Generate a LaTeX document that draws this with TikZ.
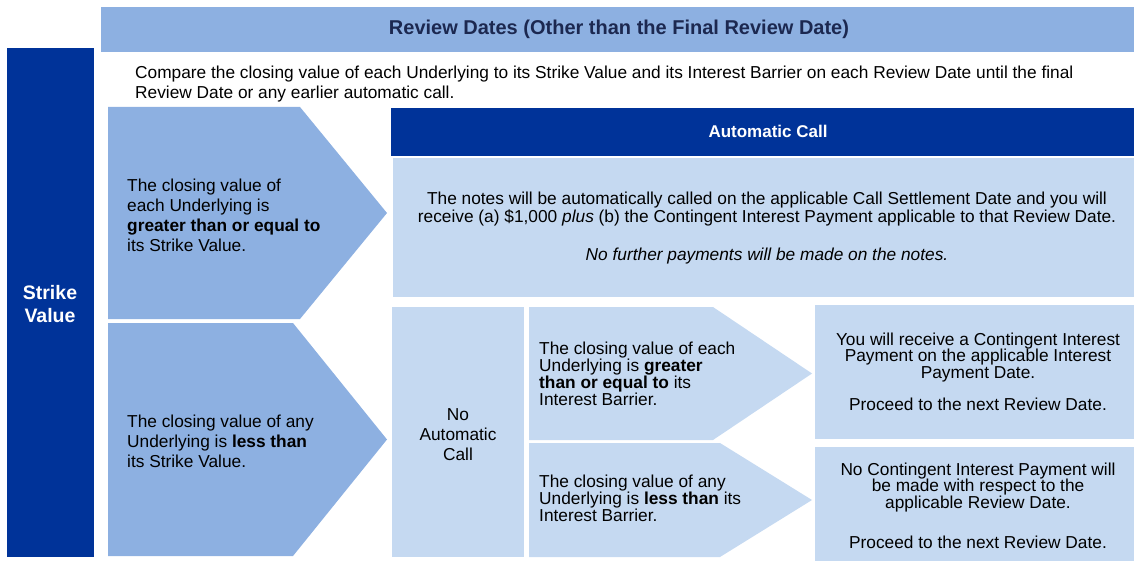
\documentclass[tikz,border=0pt]{standalone}
\usepackage{fontspec}
\setmainfont{Liberation Sans}
\definecolor{darkblue}{RGB}{0,51,153}
\definecolor{midblue}{RGB}{141,176,225}
\definecolor{paleblue}{RGB}{197,217,241}
\definecolor{navytext}{RGB}{28,40,80}
\begin{document}
\begin{tikzpicture}[x=1pt,y=-1pt,
  txt/.style={font=\fontsize{17.3}{20}\selectfont, inner sep=0pt, text=black},
  tight/.style={font=\fontsize{17.3}{15.3}\selectfont, inner sep=0pt, text=black},
  tighter/.style={font=\fontsize{17.3}{14.6}\selectfont, inner sep=0pt, text=black},
  mid/.style={font=\fontsize{17.3}{16.5}\selectfont, inner sep=0pt, text=black},
  darkfill/.style={fill=darkblue, draw=none},
  midfill/.style={fill=midblue, draw=none},
  palefill/.style={fill=paleblue, draw=none}]
\useasboundingbox (0,0) rectangle (1134,561);
% header
\fill[midfill] (101,7) rectangle (1134,52);
\node[font=\bfseries\fontsize{20}{22}\selectfont, text=navytext, inner sep=0pt] (hdr) at (619,29.5) {Review Dates (Other than the Final Review Date)};
% strike value
\fill[darkfill] (7,48) rectangle (94,557);
\node[font=\bfseries\fontsize{19.5}{22.5}\selectfont, text=white, align=center, inner sep=0pt] (strike) at (50,304) {Strike\\Value};
% intro text
\node[txt, align=left, anchor=west] (intro) at (135,84) {Compare the closing value of each Underlying to its Strike Value and its Interest Barrier on each Review Date until the final\\Review Date or any earlier automatic call.};
% chevron 1
\fill[midfill] (108,107) -- (300,107) -- (387,213) -- (300,319) -- (108,319) -- cycle;
\node[txt, align=left, anchor=west] (c1) at (127,215) {The closing value of\\each Underlying is\\\textbf{greater than or equal to}\\its Strike Value.};
% chevron 2
\fill[midfill] (108,323) -- (293,323) -- (387,439.5) -- (293,556) -- (108,556) -- cycle;
\node[txt, align=left, anchor=west] (c2) at (127,441) {The closing value of any\\Underlying is \textbf{less than}\\its Strike Value.};
% automatic call
\fill[darkfill] (391,108) rectangle (1134,156);
\node[font=\bfseries\fontsize{17}{20}\selectfont, text=white, inner sep=0pt] (ach) at (768,131) {Automatic Call};
\fill[palefill] (393,158) rectangle (1134,297);
\node[font=\fontsize{17.3}{17.5}\selectfont, align=center, inner sep=0pt] (acb) at (767,228.5) {The notes will be automatically called on the applicable Call Settlement Date and you will\\receive (a) \$1,000 \textit{plus} (b) the Contingent Interest Payment applicable to that Review Date.\\[21pt]\textit{No further payments will be made on the notes.}};
% no automatic call
\fill[palefill] (392,307) rectangle (524,557);
\node[txt, align=center] (nac) at (458,435) {No\\Automatic\\Call};
% sub chevrons
\fill[palefill] (529,307) -- (713,307) -- (812,373.5) -- (713,440) -- (529,440) -- cycle;
\node[tight, align=left, anchor=west] (s1) at (539,374) {The closing value of each\\Underlying is \textbf{greater}\\\textbf{than or equal to} its\\Interest Barrier.};
\fill[palefill] (529,443) -- (720,443) -- (812,500) -- (720,557) -- (529,557) -- cycle;
\node[tighter, align=left, anchor=west] (s2) at (539,498) {The closing value of any\\Underlying is \textbf{less than} its\\Interest Barrier.};
% result boxes
\fill[palefill] (815,305) rectangle (1134,439);
\node[mid, align=center] (r1) at (978,372) {You will receive a Contingent Interest\\Payment on the applicable Interest\\Payment Date.\\[16pt]Proceed to the next Review Date.};
\fill[palefill] (815,447) rectangle (1134,561);
\node[mid, align=center] (r2) at (978,506) {No Contingent Interest Payment will\\be made with respect to the\\applicable Review Date.\\[24pt]Proceed to the next Review Date.};
\end{tikzpicture}
\end{document}
